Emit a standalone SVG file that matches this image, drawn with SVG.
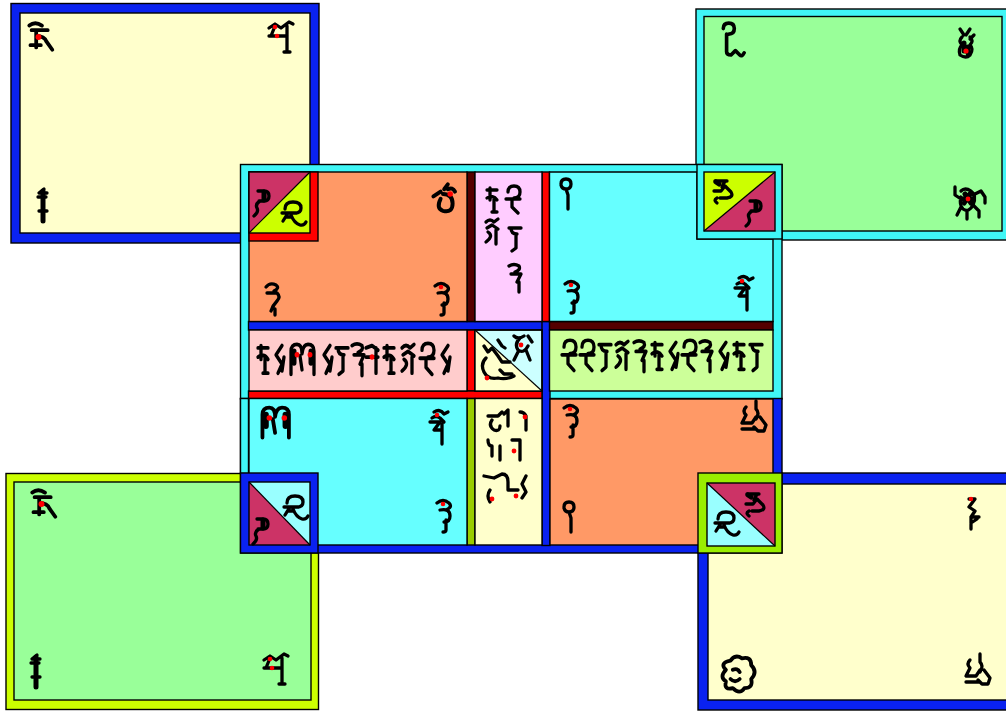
<svg xmlns="http://www.w3.org/2000/svg" xmlns:xlink="http://www.w3.org/1999/xlink" width="1006" height="711" viewBox="0 0 1006 711">
<style>
.k{stroke:#000;stroke-width:1.4}
.gl{fill:none;stroke:#000;stroke-width:3.3;stroke-linecap:round;stroke-linejoin:round}
.th{stroke-width:5}
.rd{fill:#f00;stroke:none}
.blue{fill:#0a22f0}
.cyb{fill:#40f6f6}
.cyt{fill:#66ffff}
.orange{fill:#ff9966}
.pink{fill:#ffccff}
.salmon{fill:#ffcccc}
.lgreen{fill:#ccff99}
.cream{fill:#ffffcc}
.green{fill:#99ff99}
.crim{fill:#cc3366}
.ylg{fill:#ccff00}
.lcy{fill:#99ffff}
.pcy{fill:#ccffff}
.red{fill:#ff0000}
.maroon{fill:#550000}
.lime{fill:#ccff00}
.lime2{fill:#99ee00}
.lime3{fill:#99cc00}
</style>
<defs>
<g id="g-ka" class="gl"><path d="M2,4 q5,-4 11,0 M4,8 h14 M8,8 v15 M8,13 q7,0 9,5 l5,7 M3,21 h9"/><circle class="rd" cx="10" cy="14" r="2.6"/></g>
<g id="g-ta" class="gl"><path d="M2,8 l6,-4 l6,4 l8,-6 l4,2 M8,6 l-4,10 M2,16 h18 M20,6 v26 M17,32 h6"/><circle class="rd" cx="8" cy="7" r="2.3"/><circle class="rd" cx="10" cy="16" r="2.3"/></g>
<g id="g-stick" class="gl"><path d="M11,2 l-5,4 h8 M5,10 h8 M6,24 h8"/><path class="th" d="M10,4 v30"/></g>
<g id="g-ja" class="gl"><path d="M6,4 h6 q5,0 5,5 q0,5 -5,5 h-5 M8,14 q-5,3 -3,7 q2,4 -3,8"/><path class="th" d="M12,5 v8"/></g>
<g id="g-loop" class="gl"><path d="M5,9 q0,-7 8,-7 q8,0 8,6 q0,5 -6,5 M2,13 h15 M8,13 l-5,8 M6,17 h6 M11,15 q3,8 9,10 q4,1 6,-3"/></g>
<g id="g-yu" class="gl"><path d="M3,3 h12 M13,3 l-3,6 M2,13 h7 l4,-5 l6,6 q3,5 -4,6 h-7 M5,20 q-4,2 0,5"/><path class="th" d="M4,4 l3,2"/></g>
<g id="g-lolli" class="gl"><path d="M4,6 q0,-5 5,-5 q5,0 5,5 q0,5 -5,5 q-4,0 -5,-4 M9,11 l2,6 v14"/></g>
<g id="g-pa" class="gl"><path d="M6,4 q6,-4 10,2 l4,-2 M4,10 q4,-3 8,0 l4,4 M2,14 h10 l-6,8 h8 M14,16 v20"/><circle class="rd" cx="9" cy="7" r="2.3"/></g>
<g id="g-nga" class="gl"><path d="M3,5 q6,-5 12,0 q4,4 -3,7 M6,12 q10,-2 10,6 q0,6 -6,6 M12,22 v10 q0,2 -3,2"/><circle class="rd" cx="9" cy="6" r="2.3"/></g>
<g id="g-ha" class="gl"><path d="M3,6 q4,-5 10,-2 q4,3 -2,6 M4,12 h10 q4,4 0,8 q-4,4 -6,10 M12,28 v6"/></g>
<g id="g-a" class="gl"><path d="M2,12 l6,-4 M14,2 l-3,4 M10,10 q8,0 8,8 q0,8 -8,6 q-6,-2 -2,-10 M14,6 q4,-2 6,2"/><circle class="rd" cx="16" cy="10" r="2.3"/></g>
<g id="g-m" class="gl"><path d="M3,30 v-20 q0,-6 6,-6 q5,0 5,8 q1,-8 6,-8 q6,0 6,6 v20 M12,14 l2,12"/><path class="th" d="M6,10 v10 M23,10 v10"/><circle class="rd" cx="9" cy="13" r="2.4"/><circle class="rd" cx="22" cy="13" r="2.4"/></g>
<g id="g-tr1" class="gl"><path d="M3,6 q0,-5 5,-5 q5,0 5,5 q0,5 -5,5 M6,11 v16 q0,3 4,3 l4,-4 l4,4 q2,2 4,-2"/></g>
<g id="g-tr2" class="gl"><path d="M4,2 l4,6 M14,2 l-4,6 M6,10 q-4,4 0,8 q-4,4 -2,10 q6,4 10,0 q4,-6 0,-10 q4,-4 0,-8 M14,12 l4,-4"/><path class="th" d="M8,16 v8 M12,20 v6"/><circle class="rd" cx="10" cy="24" r="2.6"/></g>
<g id="g-spider" class="gl"><path d="M2,4 v8 l6,4 M8,8 q4,-4 10,0 q6,4 2,14 q-4,8 -10,4 q-4,-4 -2,-12 M20,12 l8,-4 l4,6 v6 M20,22 l6,6 v6 M8,24 l-4,8 M14,28 v8"/><path class="th" d="M12,11 l6,9 M17,11 l-6,9 M10,16 h10"/><circle class="rd" cx="15" cy="16" r="2.4"/></g>
<g id="g-br1" class="gl"><path d="M6,2 l6,0 l-6,8 l6,4 l-4,6 h8 M8,20 v12 M8,26 l6,-4"/><circle class="rd" cx="8" cy="2" r="2.2"/></g>
<g id="g-blob" class="gl"><path d="M6,12 q-6,-6 4,-8 q4,-6 10,-2 q8,-2 8,6 q6,6 0,12 q2,8 -6,8 q-4,6 -10,0 q-8,2 -6,-6 q-6,-4 0,-10 M12,12 q4,-2 6,2 M10,20 q4,4 8,0"/></g>
<g id="g-br2" class="gl"><path d="M8,8 q-4,4 0,8 l-4,8 h10 l4,-6 M18,2 v8 q4,4 0,10 M22,18 l6,8 l-2,6 h-6 l-4,-4 M4,30 h14"/></g>
<g id="r1" class="gl"><path d="M2,6 h10 M5,4 v12 M2,14 q6,-4 10,2 M9,14 v14 M7,28 h5"/></g>
<g id="r2" class="gl"><path d="M10,4 l-6,8 l6,8 l-4,8 M12,14 l-2,12"/></g>
<g id="r3" class="gl"><path d="M2,6 h12 M4,6 q0,6 6,6 M9,12 v14 l-4,3"/></g>
<g id="r4" class="gl"><path d="M2,6 l6,-2 l6,4 M2,14 h12 M12,6 v22"/><circle class="rd" cx="8" cy="14" r="2.4"/></g>
<g id="r5" class="gl"><path d="M4,8 q0,-6 6,-6 q6,0 6,6 q0,6 -6,6 M2,15 h14 M8,15 v8 l6,6"/></g>
<g id="r6" class="gl"><path d="M2,4 q5,-3 10,0 q2,4 -4,6 M4,12 h10 l-4,8 M12,20 v10"/></g>
<g id="r7" class="gl"><path d="M2,6 q4,-4 8,0 l4,-3 M3,12 l5,-3 l6,4 M4,16 q6,4 -2,10 M12,14 v14"/></g>
</defs>

<rect width="1006" height="711" fill="#ffffff"/>

<g id="card-top-left">
<rect class="blue k" x="11" y="3.5" width="308" height="239.5"/>
<rect class="cream k" x="20" y="13" width="290" height="220"/>
<use href="#g-ka" transform="translate(27,21) scale(1.15)"/>
<use href="#g-ta" x="267" y="20"/>
<use href="#g-stick" x="33" y="187"/>
</g>

<g id="card-top-right">
<rect class="cyb k" x="696" y="9" width="320" height="231"/>
<rect class="green k" x="704" y="16.5" width="298" height="214.5"/>
<use href="#g-tr1" transform="translate(720,22) scale(1.1)"/>
<use href="#g-tr2" x="956" y="27"/>
<use href="#g-spider" x="953" y="183"/>
</g>

<g id="card-bottom-left">
<rect class="lime k" x="6" y="473.5" width="312.5" height="236"/>
<rect class="green k" x="14" y="482" width="297" height="218"/>
<use href="#g-ka" transform="translate(30,488) scale(1.15)"/>
<use href="#g-stick" x="26" y="653"/>
<use href="#g-ta" x="262" y="652"/>
</g>

<g id="card-bottom-right">
<rect class="blue k" x="698" y="473" width="320" height="237"/>
<rect class="cream k" x="708" y="484" width="310" height="216"/>
<use href="#g-br1" x="963" y="497"/>
<use href="#g-blob" transform="translate(719,656) scale(1.15)"/>
<use href="#g-br2" x="962" y="652"/>
</g>

<g id="center-frame">
<rect class="cyb k" x="240.5" y="164.5" width="541.5" height="234.5"/>
<rect class="blue k" x="240.5" y="398.5" width="541.5" height="154.5"/>
<rect class="cyb k" x="240.5" y="398.5" width="8" height="75"/>
<rect class="blue k" x="248.5" y="321.5" width="301" height="8.5"/>
<rect class="blue k" x="542" y="321.5" width="8" height="224"/>
<rect class="maroon k" x="549.5" y="321.5" width="223.5" height="8.5"/>
<rect class="red k" x="542" y="172" width="7.5" height="149.5"/>
<rect class="maroon k" x="467" y="172" width="8" height="149.5"/>
<rect class="red k" x="467" y="330" width="8" height="61"/>
<rect class="red k" x="248.5" y="391" width="293.5" height="7.5"/>
<rect class="lime3 k" x="467" y="398.5" width="8" height="146.5"/>
</g>

<g id="tile-a">
<rect class="orange k" x="249" y="172" width="218" height="149.5"/>
<use href="#g-a" transform="translate(431,182) scale(1.2)"/>
<use href="#g-ha" x="263" y="281"/>
<use href="#g-nga" x="432" y="281"/>
</g>

<g id="tile-b">
<rect class="pink k" x="475" y="172" width="67" height="149.5"/>
<use href="#r1" x="485" y="184"/>
<use href="#r5" x="504" y="184"/>
<use href="#r7" x="484" y="216"/>
<use href="#r3" x="507" y="222"/>
<use href="#r6" x="507" y="262"/>
</g>

<g id="tile-c">
<path class="cyt k" d="M549.5,172 H697 V239 H773 V321.5 H549.5 Z"/>
<use href="#g-lolli" x="557" y="178"/>
<use href="#g-nga" x="562" y="279"/>
<use href="#g-pa" x="733" y="274"/>
</g>

<g id="tile-d">
<rect class="salmon k" x="249" y="330" width="218" height="61"/>
<g transform="translate(0,-5) scale(1,1.15)" transform-origin="0 346">
<use href="#r1" x="256" y="346"/>
<use href="#r2" x="272" y="346"/>
<use href="#g-m" x="288" y="345"/>
<use href="#r2" x="320" y="346"/>
<use href="#r3" x="334" y="346"/>
<use href="#r6" x="350" y="346"/>
<use href="#r4" x="364" y="346"/>
<use href="#r1" x="382" y="346"/>
<use href="#r7" x="400" y="346"/>
<use href="#r5" x="418" y="346"/>
<use href="#r2" x="438" y="346"/>
</g>
</g>

<g id="tile-e">
<rect class="pcy k" x="475" y="330" width="67" height="61"/>
<path class="cream" d="M475,330 L542,391 H475 Z"/>
<path d="M475,330 L542,391" stroke="#000" stroke-width="1.2"/>
<rect fill="none" class="k" x="475" y="330" width="67" height="61"/>
<g class="gl"><path d="M498,340 l4,6 l3,2 M514,336 q4,4 10,0 M520,338 q-6,6 -2,12 q6,4 10,-4 M528,336 l4,6 M526,350 l4,10 M518,352 l-4,8"/><path d="M484,346 l4,6 l4,-4 l6,8 l4,6 h8 M486,358 q-6,6 -2,14 q4,8 14,6 q8,2 16,-2 M500,370 l4,4 h8"/></g>
<circle class="rd" cx="521" cy="345" r="2.4"/>
<circle class="rd" cx="487" cy="378" r="2.4"/>
</g>

<g id="tile-f">
<rect class="lgreen k" x="549.5" y="330" width="223.5" height="61"/>
<g transform="translate(0,-3) scale(1,1.12)" transform-origin="0 341">
<use href="#r5" x="560" y="341"/>
<use href="#r5" x="578" y="341"/>
<use href="#r3" x="597" y="341"/>
<use href="#r7" x="614" y="341"/>
<use href="#r6" x="632" y="341"/>
<use href="#r1" x="650" y="341"/>
<use href="#r2" x="666" y="341"/>
<use href="#r5" x="680" y="341"/>
<use href="#r6" x="698" y="341"/>
<use href="#r2" x="716" y="341"/>
<use href="#r1" x="732" y="341"/>
<use href="#r3" x="748" y="341"/>
</g>
</g>

<g id="tile-g">
<rect class="cyt k" x="249" y="398.5" width="218" height="146.5"/>
<use href="#g-m" transform="translate(259,403) scale(1.15)"/>
<use href="#g-pa" x="428" y="408"/>
<use href="#g-nga" x="434" y="498"/>
</g>

<g id="tile-h">
<rect class="cream k" x="475" y="398.5" width="67" height="146.5"/>
<g class="gl"><path d="M488,416 h10 l4,-4 M492,420 q-4,6 2,10 q6,2 6,-4 M504,414 l4,-4 v16 M520,412 q4,0 6,4 v14 M488,440 q0,6 4,6 v10 M500,446 v14 M512,440 h8 v20 M484,476 l10,2 l8,-4 q6,0 6,8 v8 h10 M490,490 q-4,6 0,12 M526,476 l-4,8 l4,8 l-4,6"/></g>
<circle class="rd" cx="525" cy="417" r="2.4"/>
<circle class="rd" cx="514" cy="451" r="2.4"/>
<circle class="rd" cx="492" cy="499" r="2.4"/>
<circle class="rd" cx="516" cy="496" r="2.4"/>
</g>

<g id="tile-i">
<rect class="orange k" x="550" y="399" width="223" height="146"/>
<use href="#g-nga" x="561" y="403"/>
<use href="#g-br2" x="738" y="399"/>
<use href="#g-lolli" x="560" y="501"/>
</g>

<g id="square-tl">
<rect class="red k" x="249" y="172" width="69" height="69"/>
<rect class="ylg" x="249" y="172" width="61" height="61"/>
<path class="crim" d="M249,172 H310 L249,233 Z"/>
<path d="M249,233 L310,172" stroke="#000" stroke-width="1.2"/>
<rect fill="none" class="k" x="249" y="172" width="61" height="61"/>
<use href="#g-ja" x="252" y="187"/>
<use href="#g-loop" x="280" y="200"/>
</g>

<g id="square-tr">
<rect class="cyb k" x="697" y="164.5" width="85" height="74.5"/>
<rect class="crim" x="704" y="172" width="71" height="59"/>
<path class="ylg" d="M704,172 H775 L704,231 Z"/>
<path d="M704,231 L775,172" stroke="#000" stroke-width="1.2"/>
<rect fill="none" class="k" x="704" y="172" width="71" height="59"/>
<use href="#g-yu" x="712" y="178"/>
<use href="#g-ja" x="744" y="197"/>
</g>

<g id="square-bl">
<rect class="blue k" x="240.5" y="473" width="77.5" height="80"/>
<rect class="lcy" x="249" y="482" width="61" height="63"/>
<path class="crim" d="M249,482 L310,545 H249 Z"/>
<path d="M249,482 L310,545" stroke="#000" stroke-width="1.2"/>
<rect fill="none" class="k" x="249" y="482" width="61" height="63"/>
<use href="#g-ja" x="251" y="515"/>
<use href="#g-loop" x="282" y="494"/>
</g>

<g id="square-br">
<rect class="lime2 k" x="698" y="473" width="84" height="80"/>
<rect class="lcy" x="707" y="483" width="68" height="63"/>
<path class="crim" d="M707,483 H775 V546 Z"/>
<path d="M707,483 L775,546" stroke="#000" stroke-width="1.2"/>
<rect fill="none" class="k" x="707" y="483" width="68" height="63"/>
<use href="#g-yu" x="744" y="491"/>
<use href="#g-loop" x="713" y="510"/>
</g>
</svg>
